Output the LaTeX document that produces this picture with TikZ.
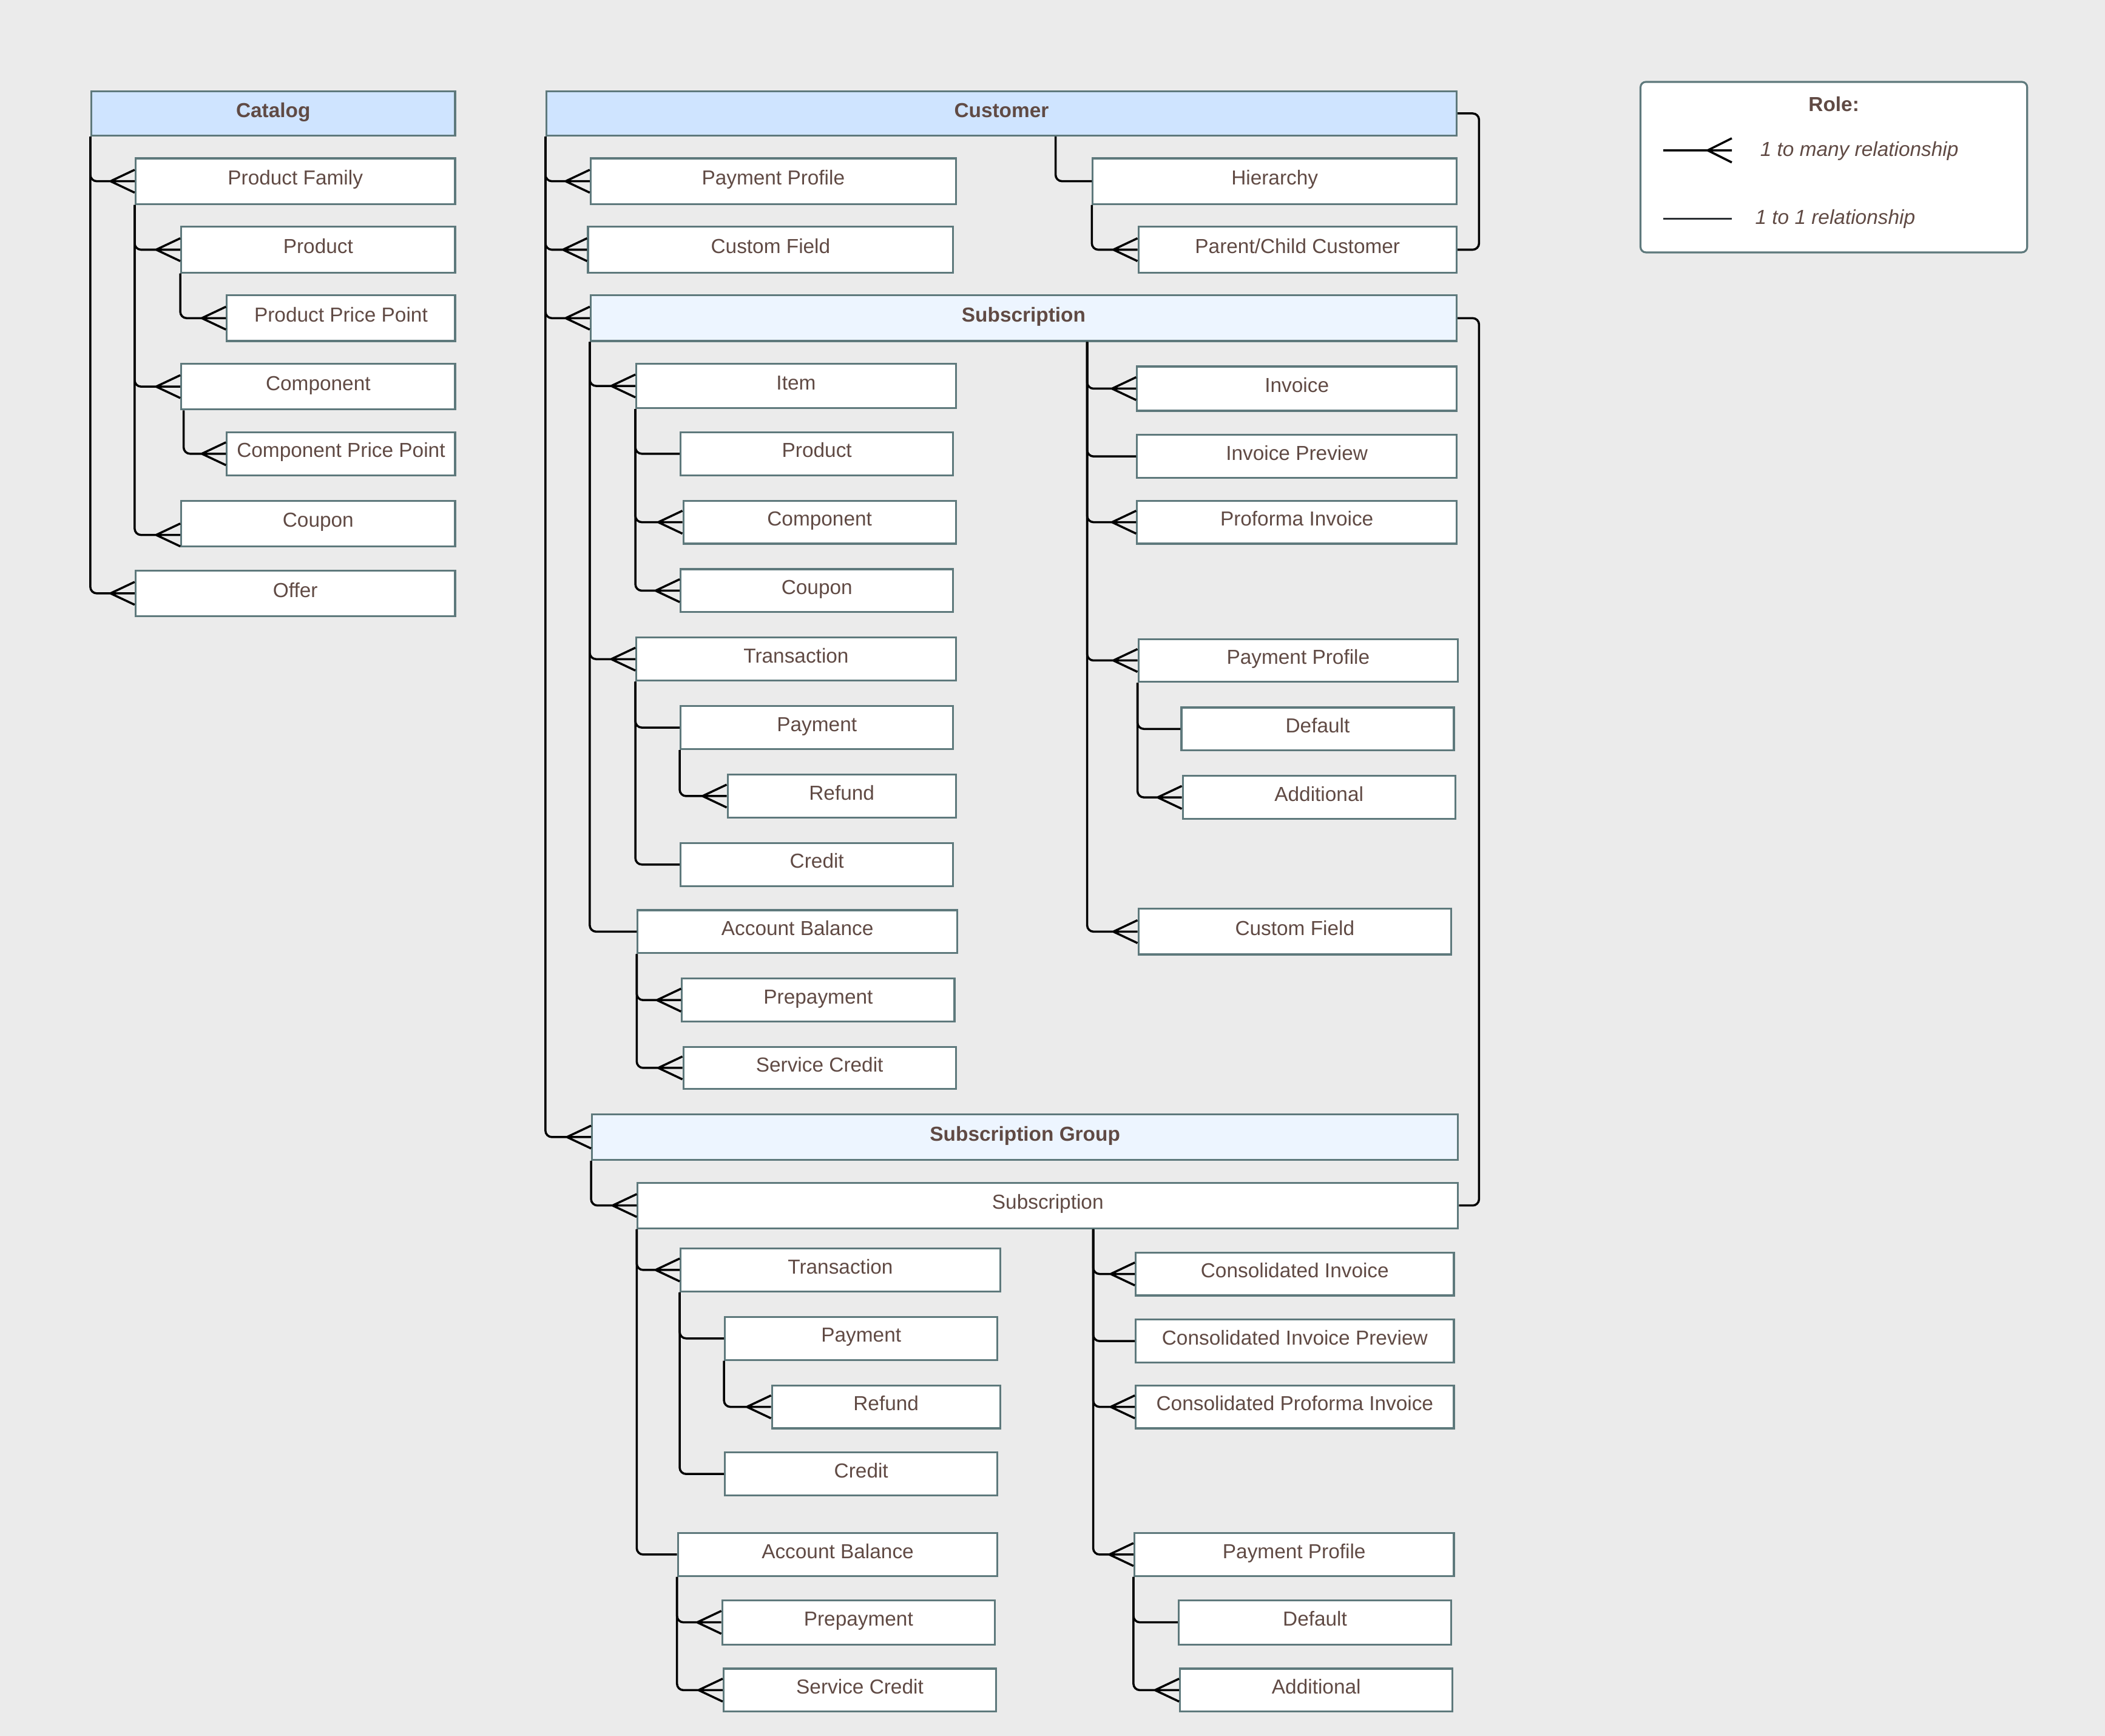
\documentclass[tikz,border=0pt]{standalone}
\usepackage{fontspec}
\setmainfont{Liberation Sans}
\usetikzlibrary{calc}
\definecolor{canvas}{HTML}{EBEBEB}
\definecolor{edge}{HTML}{5E797C}
\definecolor{ink}{HTML}{604A44}
\definecolor{headblue}{HTML}{CFE4FF}
\definecolor{paleblue}{HTML}{EDF5FF}
\definecolor{slate}{HTML}{2B2F33}
\def\upx{0.022124cm}

\begin{document}
\begin{tikzpicture}[x=\upx, y=-\upx,
	ent/.style={draw=edge, line width=0.9pt, fill=white, text=ink, inner sep=0pt,
		text height=6.8pt, text depth=3.3pt, font=\fontsize{9.5}{11}\selectfont},
	head/.style={ent, fill=headblue, font=\fontsize{9.5}{11}\selectfont\bfseries},
	subhead/.style={head, fill=paleblue},
	note/.style={text=ink, inner sep=0pt, text height=6.8pt, text depth=3.3pt,
		font=\fontsize{9.5}{11}\selectfont\itshape},
	wire/.style={draw=black, line width=1pt, rounded corners=3pt},
	one/.style={wire, to path={|- (\tikztotarget)}},
	many/.style={wire, to path={|- (\tikztotarget) ++(-18,0) -- ++(18,-8.5) ++(-18,8.5) -- ++(18,8.5)}},
]
\fill[canvas] (0,0) rectangle (1568,1293);

\foreach \n/\xa/\ya/\xb/\yb/\s/\t in {
	cat/68/68/339/101/head/Catalog,
	cust/407/68/1085/101/head/Customer,
	sub/440/220/1085/254/subhead/Subscription,
	sg/441/830/1086/864/subhead/Subscription Group,
	pfam/101/118/339/152/ent/Product Family,
	cprod/135/169/339/203/ent/Product,
	cppt/169/220/339/254/ent/Product Price Point,
	ccomp/135/271/339/305/ent/Component,
	ccpp/169/322/339/354/ent/Component Price Point,
	ccoup/135/373/339/407/ent/Coupon,
	offer/101/425/339/459/ent/Offer,
	cpp/440/118/712/152/ent/Payment Profile,
	ccf/438/169/710/203/ent/Custom Field,
	hier/814/118/1085/152/ent/Hierarchy,
	pcc/848/169/1085/203/ent/{Parent/Child Customer},
	item/474/271/712/304/ent/Item,
	sprod/507/322/710/354/ent/Product,
	scomp/509/373/712/405/ent/Component,
	scoup/507/424/710/456/ent/Coupon,
	trans/474/475/712/507/ent/Transaction,
	spay/507/526/710/558/ent/Payment,
	sref/542/577/712/609/ent/Refund,
	scred/507/628/710/660/ent/Credit,
	sab/475/678/713/710/ent/Account Balance,
	sprep/508/729/711/761/ent/Prepayment,
	ssc/509/780/712/811/ent/Service Credit,
	inv/847/273/1085/306/ent/Invoice,
	invp/847/324/1085/356/ent/Invoice Preview,
	pinv/847/373/1085/405/ent/Proforma Invoice,
	spp/848/476/1086/508/ent/Payment Profile,
	sdef/880/527/1083/559/ent/Default,
	sadd/881/578/1084/610/ent/Additional,
	scf/848/677/1081/711/ent/Custom Field,
	gsub/475/881/1086/915/ent/Subscription,
	gtrans/507/930/745/962/ent/Transaction,
	gpay/540/981/743/1013/ent/Payment,
	gref/575/1032/745/1064/ent/Refund,
	gcred/540/1082/743/1114/ent/Credit,
	gab/505/1142/743/1174/ent/Account Balance,
	gprep/538/1192/741/1225/ent/Prepayment,
	gsc/539/1243/742/1275/ent/Service Credit,
	gcinv/846/933/1083/965/ent/Consolidated Invoice,
	gcip/846/983/1083/1015/ent/Consolidated Invoice Preview,
	gcpi/846/1032/1083/1064/ent/Consolidated Proforma Invoice,
	gpp/845/1142/1083/1174/ent/Payment Profile,
	gdef/878/1192/1081/1225/ent/Default,
	gadd/879/1243/1082/1275/ent/Additional%
}{
	\node[\s, minimum width={(\xb-\xa)*\upx}, minimum height={(\yb-\ya)*\upx}](\n) at({(\xa+\xb)/2},{(\ya+\yb)/2}) {\t};
}

\coordinate(hstub) at($(cust.south west)+(380,0)$);
\coordinate(cstub) at($(ccomp.south west)+(2.5,0)$);
\coordinate(sstub) at($(sub.south west)+(370.5,0)$);
\coordinate(gstub) at($(gsub.south west)+(340,0)$);
\coordinate(cpend) at($(ccoup.west)+(0,8.5)$);

\foreach \u/\v in {
	cat.south west/pfam, cat.south west/offer, pfam.south west/cprod, pfam.south west/ccomp,
	cprod.south west/cppt, cstub/ccpp,
	cust.south west/cpp, cust.south west/ccf, cust.south west/sub, cust.south west/sg, hier.south west/pcc,
	sub.south west/item, sub.south west/trans, item.south west/scomp, item.south west/scoup,
	spay.south west/sref, sab.south west/sprep, sab.south west/ssc,
	sstub/inv, sstub/pinv, sstub/spp, sstub/scf, spp.south west/sadd,
	sg.south west/gsub, gsub.south west/gtrans, gpay.south west/gref, gab.south west/gprep, gab.south west/gsc,
	gstub/gcinv, gstub/gcpi, gstub/gpp, gpp.south west/gadd%
}{
	\draw[many] (\u) to (\v.west);
}
\draw[many] (pfam.south west) to (cpend);

\foreach \u/\v in {
	hstub/hier, sub.south west/sab, item.south west/sprod, trans.south west/spay, trans.south west/scred,
	sstub/invp, spp.south west/sdef,
	gsub.south west/gab, gtrans.south west/gpay, gtrans.south west/gcred, gstub/gcip, gpp.south west/gdef%
}{
	\draw[one] (\u) to (\v.west);
}

\draw[wire] (cust.east) -- ++(16,0) |- (pcc.east);
\draw[wire] (sub.east) -- ++(16,0) |- (gsub.east);

\node[draw=edge, line width=0.9pt, fill=white, rounded corners=2.5pt, minimum width={288*\upx}, minimum height={127*\upx}](legend) at(1366,124.5) {};
\node[note, font=\fontsize{9.5}{11}\selectfont\bfseries](role) at(1366,80) {Role:};
\coordinate(m1) at(1239,112);
\coordinate(m2) at(1290,112);
\coordinate(o1) at(1239,163);
\coordinate(o2) at(1290,163);
\draw[wire] (m1) -- (m2) ++(-18,0) -- ++(18,-9) ++(-18,9) -- ++(18,9);
\draw[wire, draw=slate] (o1) -- (o2);
\node[note](manytxt) at(1385,113.7) {1 to many relationship};
\node[note](onetxt) at(1367,164.4) {1 to 1 relationship};
\end{tikzpicture}
\end{document}
